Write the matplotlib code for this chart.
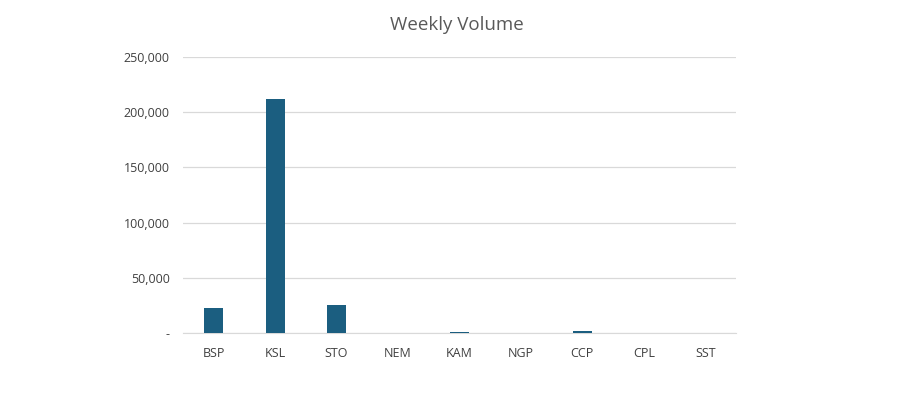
import matplotlib
matplotlib.use('Agg')
import matplotlib.pyplot as plt
from matplotlib.ticker import FuncFormatter

categories = ['BSP', 'KSL', 'STO', 'NEM', 'KAM', 'NGP', 'CCP', 'CPL', 'SST']
volume = [22500, 211500, 25300, 0, 900, 0, 1900, 0, 0]

plt.rcParams['font.family'] = ['Open Sans', 'DejaVu Sans']

fig = plt.figure(figsize=(9.04, 4.16), dpi=100)
ax = fig.add_axes([0.2024, 0.1995, 0.6117, 0.6635])

x = range(len(categories))
ax.bar(x, volume, width=0.31, color='#1b5e80', zorder=3)

ax.set_xlim(-0.5, len(categories) - 0.5)
ax.set_ylim(0, 250000)
ax.set_yticks(range(0, 250001, 50000))
ax.yaxis.set_major_formatter(FuncFormatter(lambda v, p: '-' if v == 0 else f'{int(v):,}'))
ax.set_xticks(list(x))
ax.set_xticklabels(categories)

ax.grid(axis='y', color='#d9d9d9', linewidth=0.9, zorder=0)
for s in ['top', 'right', 'left']:
    ax.spines[s].set_visible(False)
ax.spines['bottom'].set_color('#d9d9d9')
ax.tick_params(axis='both', length=0, labelsize=9, colors='#404040')
ax.tick_params(axis='x', pad=10)
ax.tick_params(axis='y', pad=9.5)

fig.text(0.505, 0.94, 'Weekly Volume', ha='center', va='center', fontsize=13.5, color='#595959')

fig.savefig('out.png', dpi=100)
